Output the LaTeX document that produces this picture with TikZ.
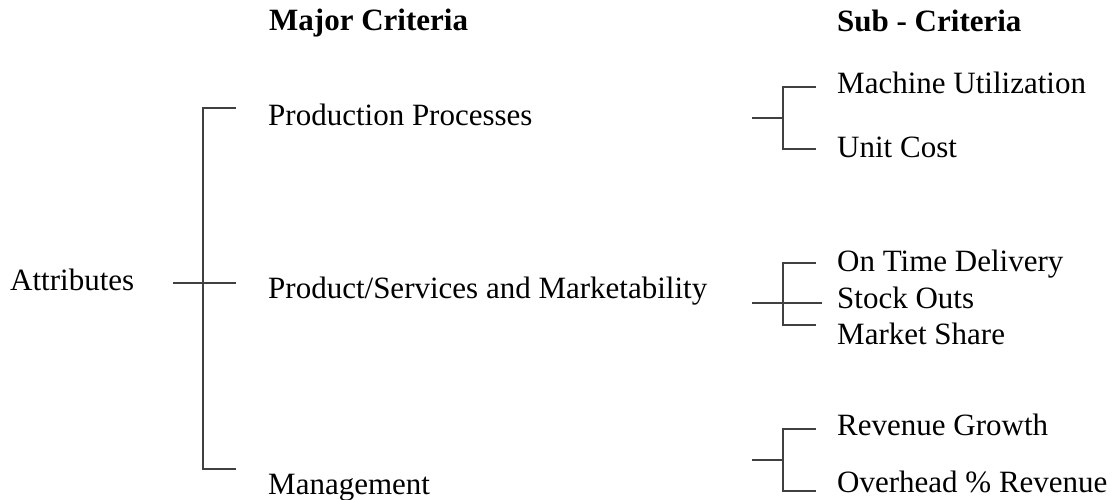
\documentclass[tikz,border=0pt]{standalone}
\usepackage{fontspec}
\setmainfont{Liberation Serif}
\begin{document}
\begin{tikzpicture}[x=1pt,y=-1pt,
  lbl/.style={anchor=base west,inner sep=0pt,font=\fontsize{31}{36}\selectfont},
  head/.style={lbl,font=\fontsize{31}{36}\selectfont\bfseries},
  link/.style={draw=black!75,line width=1.3pt}]
\useasboundingbox (0,0) rectangle (1115,500);

% column headings
\node[head] (hmaj) at (269,31) {Major Criteria};
\node[head] (hsub) at (837,32) {Sub - Criteria};

% goal and major criteria
\node[lbl] (attr) at (10,290) {Attributes};
\node[lbl] (pp)   at (268,125) {Production Processes};
\node[lbl] (psm)  at (268,298) {Product/Services and Marketability};
\node[lbl] (mgmt) at (268,494) {Management};

% sub-criteria
\node[lbl] (mu)  at (837,94)  {Machine Utilization};
\node[lbl] (uc)  at (837,157) {Unit Cost};
\node[lbl] (otd) at (837,271) {On Time Delivery};
\node[lbl] (so)  at (837,308) {Stock Outs};
\node[lbl] (ms)  at (837,344) {Market Share};
\node[lbl] (rg)  at (837,435) {Revenue Growth};
\node[lbl] (ohr) at (837,492) {Overhead \% Revenue};

% bracket: Attributes -> major criteria
\coordinate (a-in)  at (173,283);
\coordinate (a-top) at (203,108);
\coordinate (a-bot) at (203,469);
\coordinate (a-t1)  at (236,108);
\coordinate (a-t2)  at (236,283);
\coordinate (a-t3)  at (236,469);
\draw[link] (a-t1) -- (a-top) -- (a-bot) -- (a-t3);
\draw[link] (a-in) -- (a-t2);

% bracket: Production Processes -> sub-criteria
\coordinate (p-in)  at (752,118);
\coordinate (p-mid) at (783,118);
\coordinate (p-top) at (783,87);
\coordinate (p-bot) at (783,149);
\coordinate (p-t1)  at (816,87);
\coordinate (p-t2)  at (816,149);
\draw[link] (p-t1) -- (p-top) -- (p-bot) -- (p-t2);
\draw[link] (p-in) -- (p-mid);

% bracket: Product/Services and Marketability -> sub-criteria
\coordinate (s-in)  at (752,303);
\coordinate (s-top) at (783,263);
\coordinate (s-bot) at (783,325);
\coordinate (s-t1)  at (816,263);
\coordinate (s-t2)  at (822,303);
\coordinate (s-t3)  at (816,325);
\draw[link] (s-t1) -- (s-top) -- (s-bot) -- (s-t3);
\draw[link] (s-in) -- (s-t2);

% bracket: Management -> sub-criteria
\coordinate (m-in)  at (752,460);
\coordinate (m-mid) at (783,460);
\coordinate (m-top) at (783,429);
\coordinate (m-bot) at (783,491);
\coordinate (m-t1)  at (816,429);
\coordinate (m-t2)  at (816,491);
\draw[link] (m-t1) -- (m-top) -- (m-bot) -- (m-t2);
\draw[link] (m-in) -- (m-mid);
\end{tikzpicture}
\end{document}
